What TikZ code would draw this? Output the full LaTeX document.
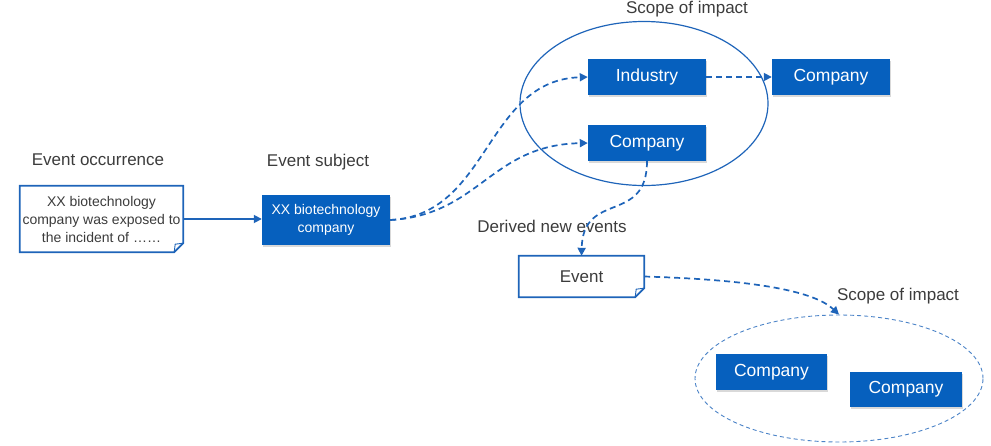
\documentclass[tikz,border=0pt]{standalone}
\usepackage{fontspec}
\setmainfont{Liberation Sans}
\usetikzlibrary{arrows.meta,shapes.geometric,shadows}
\definecolor{boxblue}{RGB}{6,96,190}
\definecolor{lineblue}{RGB}{30,100,185}
\definecolor{labelgray}{RGB}{60,60,60}
\newcommand{\foldeddoc}[1]{%
\draw[lineblue, line width=1.8pt] (#1.north west) -- (#1.north east) -- ([yshift=9pt]#1.south east) -- ([xshift=-9pt]#1.south east) -- (#1.south west) -- cycle;
\draw[lineblue, line width=0.9pt] ([xshift=-9pt]#1.south east) -- ([xshift=-8pt,yshift=8pt]#1.south east) -- ([yshift=9pt]#1.south east);}

\begin{document}
\begin{tikzpicture}[x=1pt,y=-1pt,
  >={Triangle[length=8pt,width=8pt]},
  box/.style={fill=boxblue, text=white, inner sep=0pt, align=center, font=\fontsize{17.5}{20}\selectfont,
    drop shadow={shadow xshift=1pt,shadow yshift=-1.5pt,opacity=0.3}},
  docbox/.style={fill=white, inner sep=0pt, text=labelgray, align=center},
  lbl/.style={text=labelgray, font=\fontsize{17}{20}\selectfont},
  link/.style={->, lineblue, line width=1.7pt},
  dlink/.style={link, dash pattern=on 6pt off 4pt}]
\useasboundingbox (0,0) rectangle (991,445);
% scopes of impact
\node[draw=lineblue, line width=1.2pt, ellipse, minimum width=248pt, minimum height=164pt, inner sep=0pt] (scopeA) at (644,103.5) {};
\node[draw=lineblue!80, line width=0.9pt, dash pattern=on 4pt off 3pt, ellipse, minimum width=288pt, minimum height=127pt, inner sep=0pt] (scopeB) at (839,378.5) {};
% labels
\node[lbl] (lblocc) at (98,160) {Event occurrence};
\node[lbl] (lblsubj) at (318,162) {Event subject};
\node[lbl, anchor=base] (lblscopeA) at (687,13) {Scope of impact};
\node[lbl] (lblderived) at (552,226) {Derived new events};
\node[lbl] (lblscopeB) at (898,296) {Scope of impact};
% documents
\node[docbox, minimum width=163pt, minimum height=66pt, font=\fontsize{14}{18}\selectfont] (occ) at (101.5,219) {XX biotechnology\\company was exposed to\\the incident of ……};
\foldeddoc{occ}
\node[docbox, minimum width=125pt, minimum height=41pt, font=\fontsize{17}{20}\selectfont] (ev) at (581.5,276.5) {Event};
\foldeddoc{ev}
% boxes
\node[box, minimum width=128pt, minimum height=50pt, font=\fontsize{14}{18}\selectfont] (subj) at (326,220) {XX biotechnology\\company};
\node[box, minimum width=118pt, minimum height=36pt] (ind) at (647,77) {Industry};
\node[box, minimum width=118pt, minimum height=36pt] (cmptop) at (831,77) {Company};
\node[box, minimum width=118pt, minimum height=36pt] (cmpmid) at (647,143) {Company};
\node[box, minimum width=111pt, minimum height=36pt] (cmpa) at (771.5,372) {Company};
\node[box, minimum width=112pt, minimum height=35pt] (cmpb) at (906,389.5) {Company};
% connectors
\draw[link] (occ.east) -- (occ.east -| subj.west);
\draw[dlink] (subj.east) .. controls (490,215) and (485,80) .. (ind.west);
\draw[dlink] (subj.east) .. controls (480,215) and (490,145) .. (cmpmid.west);
\draw[dlink] (ind.east) -- (cmptop.west);
\draw[dlink] (cmpmid.south) .. controls (647,225) and (583,190) .. (ev.north);
\draw[dlink] (ev.east) .. controls (760,280) and (815,292) .. (scopeB.north);
\end{tikzpicture}
\end{document}
